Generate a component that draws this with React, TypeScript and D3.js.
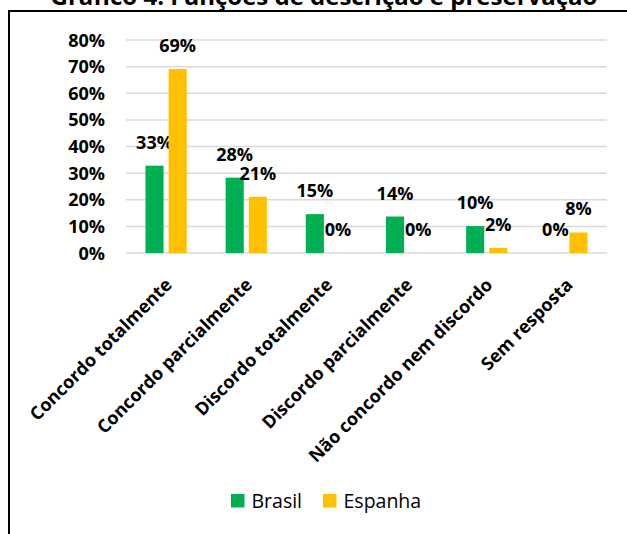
import React from "react";
import * as d3 from "d3";

// Response categories and the share of answers per country
const categories = [
  "Concordo totalmente",
  "Concordo parcialmente",
  "Discordo totalmente",
  "Discordo parcialmente",
  "Não concordo nem discordo",
  "Sem resposta",
];
const seriesNames = ["Brasil", "Espanha"];
const brasilValues = [0.328, 0.283, 0.146, 0.137, 0.101, 0];
const espanhaValues = [0.691, 0.211, 0, 0, 0.019, 0.077];
const yTicks = [0, 0.1, 0.2, 0.3, 0.4, 0.5, 0.6, 0.7, 0.8];
const title = "Gráfico 4. Funções de descrição e preservação";

const W = 627;
const H = 534;
const FONT = "'Open Sans', 'DejaVu Sans', sans-serif";
const colors: Record<string, string> = { Brasil: "#00B050", Espanha: "#FFC000" };

export default function App() {
  const x0 = d3.scaleBand<string>().domain(categories).range([126, 607]).padding(0);
  const bw = x0.bandwidth();
  const x1 = d3
    .scaleBand<string>()
    .domain(seriesNames)
    .range([bw * 0.243, bw * 0.757])
    .paddingInner(0.217);
  const y = d3.scaleLinear().domain([0, 0.8]).range([253, 40]);
  const pct = d3.format(".0%");

  const valuesBySeries: Record<string, number[]> = {
    Brasil: brasilValues,
    Espanha: espanhaValues,
  };

  return (
    <svg
      width={W}
      height={H}
      style={{ position: "absolute", left: 0, top: 0, background: "#fff" }}
      fontFamily={FONT}
    >
      <rect x={0} y={0} width={W} height={H} fill="#fff" />
      <rect x={9} y={11} width={660} height={560} fill="none" stroke="#000" strokeWidth={2} />
      <text x={324} y={5} textAnchor="middle" fontSize={24} fontWeight="bold" fill="#000">
        {title}
      </text>

      {/* gridlines and y tick labels */}
      {yTicks.map((t) => (
        <g key={t}>
          <line x1={126} x2={607} y1={y(t)} y2={y(t)} stroke="#d9d9d9" strokeWidth={1.5} />
          <text
            x={105}
            y={y(t) + 6.5}
            textAnchor="end"
            fontSize={18}
            fontWeight="bold"
            fill="#000"
          >
            {pct(t)}
          </text>
        </g>
      ))}

      {/* bars and value labels */}
      {seriesNames.map((s) =>
        categories.map((c, i) => {
          const v = valuesBySeries[s][i];
          const bx = (x0(c) ?? 0) + (x1(s) ?? 0);
          return (
            <g key={s + c}>
              <rect
                x={bx}
                y={y(v)}
                width={x1.bandwidth()}
                height={y(0) - y(v)}
                fill={colors[s]}
              />
              <text
                x={bx + x1.bandwidth() / 2}
                y={y(v) - 17}
                textAnchor="middle"
                fontSize={18}
                fontWeight="bold"
                fill="#000"
              >
                {pct(v)}
              </text>
            </g>
          );
        })
      )}

      {/* category labels */}
      {categories.map((c) => {
        const cx = (x0(c) ?? 0) + bw / 2 + 7;
        const cy = 286;
        return (
          <text
            key={c}
            transform={`translate(${cx},${cy}) rotate(-45)`}
            textAnchor="end"
            fontSize={18}
            fontWeight="bold"
            fill="#000"
          >
            {c}
          </text>
        );
      })}

      {/* legend */}
      {seriesNames.map((s, i) => {
        const lx = i === 0 ? 231 : 323;
        return (
          <g key={s}>
            <rect x={lx} y={494} width={13.5} height={13.5} fill={colors[s]} />
            <text x={lx + 20.5} y={507.5} fontSize={19.5} fill="#000">
              {s}
            </text>
          </g>
        );
      })}
    </svg>
  );
}
